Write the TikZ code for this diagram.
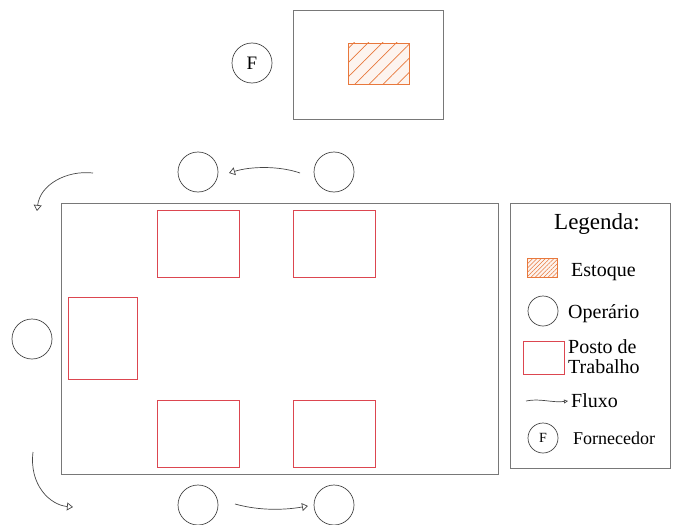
\documentclass[tikz,border=0pt]{standalone}
\usepackage{fontspec}
\setmainfont{Liberation Serif}
\usetikzlibrary{arrows.meta,patterns.meta}
\definecolor{boxgray}{RGB}{120,120,120}
\definecolor{circgray}{RGB}{70,70,70}
\definecolor{postred}{RGB}{220,70,80}
\definecolor{hatch}{RGB}{232,120,60}
\tikzset{
  area/.style={draw=boxgray, line width=0.9pt},
  posto/.style={draw=postred, line width=0.9pt},
  oper/.style={circle, draw=circgray, line width=0.7pt, minimum size=40pt, inner sep=0pt},
  legoper/.style={circle, draw=circgray, line width=0.7pt, minimum size=30pt, inner sep=0pt},
  flow/.style={draw=circgray, line width=0.7pt, -{Triangle[open, length=6pt, width=8pt]}},
  legflow/.style={draw=circgray, line width=0.7pt, -{Triangle[open, length=4pt, width=4pt]}},
  legtext/.style={anchor=base west, font=\fontsize{20}{22}\selectfont, inner sep=0pt},
}
\begin{document}
\begin{tikzpicture}[x=1pt,y=-1pt]
\useasboundingbox (0,0) rectangle (676,524);
% supplier area
\draw[area] (293,10) rectangle (443,119);
\draw[draw=hatch, line width=0.8pt, fill=hatch!8, postaction={pattern={Lines[angle=45,distance=10pt,line width=0.7pt]}, pattern color=hatch}] (348,43) rectangle (409,84);
\node[oper, minimum size=40pt, font=\fontsize{19}{19}\selectfont] (forn) at (252,63) {F};
% main area
\draw[area] (61,203) rectangle (498,474);
\draw[posto] (157,210) rectangle (239,277);
\draw[posto] (293,210) rectangle (375,277);
\draw[posto] (157,400) rectangle (239,467);
\draw[posto] (293,400) rectangle (375,467);
\draw[posto] (68,297) rectangle (137,379);
% operators
\node[oper] (o1) at (198,172) {};
\node[oper] (o2) at (334,172) {};
\node[oper] (o3) at (32,339) {};
\node[oper] (o4) at (198,505) {};
\node[oper] (o5) at (334,505) {};
% flows
\coordinate (a1s) at (300,173); \coordinate (a1e) at (229,173);
\coordinate (a2s) at (93,173);  \coordinate (a2e) at (37,211);
\coordinate (a3s) at (33,452);  \coordinate (a3e) at (73,507);
\coordinate (a4s) at (235,504); \coordinate (a4e) at (308,506);
\draw[flow] (a1s) .. controls (280,166) and (252,166) .. (a1e);
\draw[flow] (a2s) .. controls (66,170) and (40,185) .. (a2e);
\draw[flow] (a3s) .. controls (29,485) and (50,505) .. (a3e);
\draw[flow] (a4s) .. controls (260,511) and (285,510) .. (a4e);
% legend
\draw[area] (510,203) rectangle (670,468);
\node[font=\fontsize{23}{24}\selectfont, anchor=base, inner sep=0pt] (lt) at (597,229) {Legenda:};
\draw[draw=hatch, line width=0.6pt, fill=hatch!8, postaction={pattern={Lines[angle=45,distance=3pt,line width=0.6pt]}, pattern color=hatch}] (527,258) rectangle (557,277);
\node[legtext] (t1) at (571,276) {Estoque};
\node[legoper] (lo) at (543,311) {};
\node[legtext] (t2) at (568,318) {Operário};
\draw[posto] (523,341) rectangle (564,374);
\node[legtext] (t3) at (568,353) {Posto de};
\node[legtext] (t4) at (568,373) {Trabalho};
\coordinate (lfs) at (526,401); \coordinate (lfe) at (568,401);
\draw[legflow] (lfs) .. controls (540,398) and (552,403) .. (lfe);
\node[legtext] (t5) at (571,407) {Fluxo};
\node[legoper, font=\fontsize{14}{14}\selectfont] (lf) at (543,438) {F};
\node[legtext, font=\fontsize{18}{20}\selectfont] (t6) at (573,444) {Fornecedor};
\end{tikzpicture}
\end{document}
